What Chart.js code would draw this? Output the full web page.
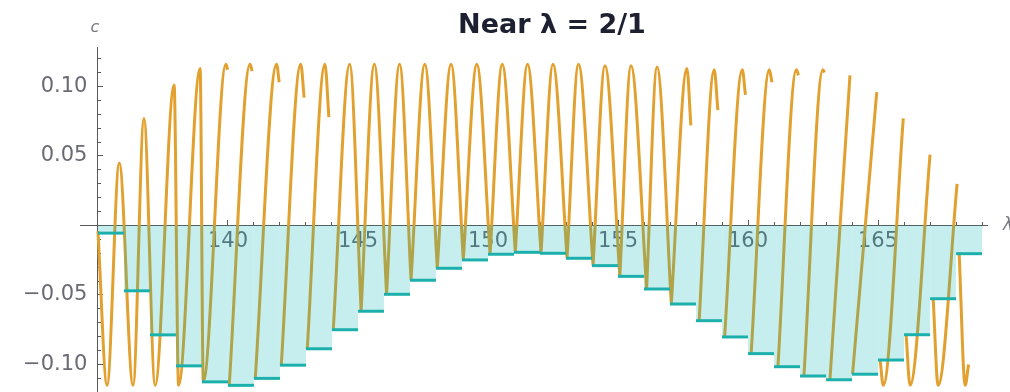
<!DOCTYPE html>
<html>
<head>
<meta charset="utf-8">
<title>Near λ = 2/1</title>
<script src="https://cdn.jsdelivr.net/npm/chart.js@4.4.1/dist/chart.umd.min.js"></script>
<style>
  html, body { margin: 0; padding: 0; background: #fff; }
  #wrap { width: 1010px; height: 392px; }
</style>
</head>
<body>
<div id="wrap"><canvas id="chart" width="1010" height="392"></canvas></div>
<script>
// step function c_k on [k, k+1)
const stepEdges = [135, 136, 137, 138, 139, 140, 141, 142, 143, 144, 145, 146, 147, 148, 149, 150, 151,
                   152, 153, 154, 155, 156, 157, 158, 159, 160, 161, 162, 163, 164, 165, 166, 167, 168, 169];
const stepValues = [-0.0055, -0.047, -0.0787, -0.101, -0.1125, -0.115, -0.110, -0.1005, -0.0887, -0.075,
                    -0.0617, -0.0495, -0.0394, -0.0308, -0.0248, -0.0207, -0.0193, -0.020, -0.0236, -0.0289,
                    -0.0366, -0.0457, -0.0565, -0.0685, -0.0802, -0.0922, -0.1016, -0.1083, -0.111, -0.107,
                    -0.0968, -0.0786, -0.0527, -0.0203];

// oscillating c(λ); null = gap, so the middle arches meet in sharp V's on the steps
const curveX = [135.0, 135.35, 135.82, 136.35, 136.77, 137.2, 137.93, 138.1, 138.93, 139.05, 139.92, 139.99, null,
                140.05, 140.85, 140.93, null,
                141.05, 141.87, 141.97, null,
                142.05, 142.8, 142.93, null,
                143.05, 143.73, 143.88, null,
                144.05, 144.68, 145.12, null,
                145.12, 145.63, 146.1, null,
                146.1, 146.6, 147.04, null,
                147.04, 147.57, 148.05, null,
                148.05, 148.58, 149.05, null,
                149.05, 149.57, 150.08, null,
                150.08, 150.55, 151.05, null,
                151.05, 151.52, 152.04, null,
                152.04, 152.5, 153.04, null,
                153.04, 153.48, 154.04, null,
                154.04, 154.5, 155.07, null,
                155.07, 155.5, 156.1, null,
                156.1, 156.5, 157.05, null,
                157.05, 157.65, 157.8, null,
                158.12, 158.7, 158.84, null,
                159.1, 159.78, 159.9, null,
                160.12, 160.82, 160.92, null,
                161.15, 161.86, 161.94, null,
                162.15, 162.88, 162.94, null,
                163.15, 163.92, null,
                164.02, 164.95, null,
                165.08, 165.2, 165.97, null,
                166.08, 166.23, 167.0, null,
                167.12, 167.31, 168.04, null,
                168.12, 168.35, 168.48];
const curveY = [-0.004, -0.115, 0.045, -0.115, 0.077, -0.115, 0.101, -0.115, 0.113, -0.1125, 0.116, 0.112, null,
                -0.115, 0.116, 0.111, null,
                -0.110, 0.116, 0.103, null,
                -0.1005, 0.116, 0.092, null,
                -0.0887, 0.116, 0.078, null,
                -0.075, 0.116, -0.0617, null,
                -0.0617, 0.116, -0.0495, null,
                -0.0495, 0.116, -0.0394, null,
                -0.0394, 0.116, -0.0308, null,
                -0.0308, 0.116, -0.0248, null,
                -0.0248, 0.116, -0.0207, null,
                -0.0207, 0.116, -0.0193, null,
                -0.0193, 0.116, -0.020, null,
                -0.020, 0.116, -0.0236, null,
                -0.0236, 0.116, -0.0289, null,
                -0.0289, 0.115, -0.0366, null,
                -0.0366, 0.115, -0.0457, null,
                -0.0457, 0.114, -0.0565, null,
                -0.0565, 0.113, 0.072, null,
                -0.0685, 0.112, 0.083, null,
                -0.0802, 0.112, 0.094, null,
                -0.0922, 0.112, 0.103, null,
                -0.1016, 0.112, 0.108, null,
                -0.1083, 0.112, 0.110, null,
                -0.111, 0.108, null,
                -0.107, 0.096, null,
                -0.0968, -0.115, 0.077, null,
                -0.0786, -0.115, 0.051, null,
                -0.0527, -0.115, 0.03, null,
                -0.0203, -0.115, -0.1];

const xMajorStep = 5, xMinorStep = 1;
const yMajorStep = 0.05, yMinorStep = 0.01;
const X_MIN = 134.31, X_MAX = 169.19;
const Y_MIN = -0.1198, Y_MAX = 0.1284;

const ORANGE = 'rgb(226,160,46)';
const TEAL = 'rgb(28,176,172)';
const SHADE = 'rgba(0,178,178,0.22)';
const AXIS = '#5a5a5a';
const LABEL = '#6a6a74';

const stepPoints = [];
stepValues.forEach((v, i) => {
  stepPoints.push({ x: stepEdges[i], y: v }, { x: stepEdges[i + 1], y: v });
});

const curvePoints = curveX.map((x, i) =>
  curveY[i] === null ? { x: curveX[i - 1], y: null } : { x, y: curveY[i] });

// en space keeps the labels clear of the axis line
const fmtY = v => {
  if (Math.abs(v) < 1e-9) return '';
  const s = Math.abs(v).toFixed(2);
  return (v < 0 ? '\u2212' + s : s) + '\u2002';
};

// axes cross inside the plot; don't let their label padding shrink the chart area
const noPadding = scale => {
  scale.paddingTop = scale.paddingBottom = scale.paddingLeft = scale.paddingRight = 0;
};

// title and axis names
const labelsPlugin = {
  id: 'plotLabels',
  afterDraw(chart) {
    const c = chart.ctx;
    c.save();
    c.fillStyle = '#1c2030';
    c.font = 'bold 27px "DejaVu Sans"';
    c.textAlign = 'center';
    c.textBaseline = 'alphabetic';
    c.fillText('Near λ = 2/1', 552, 33);
    c.fillStyle = '#777780';
    c.font = 'italic 16px "DejaVu Sans"';
    c.fillText('c', 95, 32);
    c.textAlign = 'left';
    c.textBaseline = 'middle';
    c.font = 'italic 17px "DejaVu Sans"';
    c.fillText('λ', 1003, 226);
    c.restore();
  }
};

const tickFont = { family: 'DejaVu Sans', size: 21 };

new Chart(document.getElementById('chart'), {
  type: 'line',
  data: {
    datasets: [
      {
        label: 'steps',
        data: stepPoints,
        borderColor: TEAL,
        borderWidth: 3,
        backgroundColor: SHADE,
        fill: 'origin',
        pointRadius: 0,
        tension: 0,
        segment: {
          borderColor: ctx => ctx.p0.parsed.x === ctx.p1.parsed.x ? 'transparent' : TEAL
        }
      },
      {
        label: 'c',
        data: curvePoints,
        borderColor: ORANGE,
        borderWidth: 3,
        fill: false,
        pointRadius: 0,
        cubicInterpolationMode: 'monotone',
        spanGaps: false
      }
    ]
  },
  options: {
    responsive: false,
    animation: false,
    devicePixelRatio: 1,
    layout: { padding: { top: 47, left: 80, right: 23, bottom: 0 } },
    plugins: {
      legend: { display: false },
      title: { display: false },
      tooltip: { enabled: false }
    },
    scales: {
      x: {
        type: 'linear', min: X_MIN, max: X_MAX,
        position: { y: 0 },
        afterFit: noPadding,
        ticks: {
          stepSize: xMajorStep, includeBounds: false, autoSkip: false, maxRotation: 0,
          color: LABEL, font: tickFont, padding: 9,
          callback: v => v === 135 ? '' : String(v)
        },
        grid: { drawOnChartArea: false, tickLength: -6, color: AXIS },
        border: { color: AXIS, width: 1 }
      },
      xMinor: {
        type: 'linear', min: X_MIN, max: X_MAX,
        position: { y: 0 },
        afterFit: noPadding,
        ticks: { stepSize: xMinorStep, includeBounds: false, display: false },
        grid: { drawOnChartArea: false, tickLength: -3, color: AXIS },
        border: { display: false }
      },
      y: {
        type: 'linear', min: Y_MIN, max: Y_MAX,
        position: { x: 135 },
        afterFit: noPadding,
        ticks: {
          stepSize: yMajorStep, includeBounds: false,
          color: LABEL, font: { family: 'DejaVu Sans', size: 21 }, padding: 0,
          callback: fmtY
        },
        grid: { drawOnChartArea: false, tickLength: -6, color: AXIS },
        border: { color: AXIS, width: 1 }
      },
      yMinor: {
        type: 'linear', min: Y_MIN, max: Y_MAX,
        position: { x: 135 },
        afterFit: noPadding,
        ticks: { stepSize: yMinorStep, includeBounds: false, display: false },
        grid: { drawOnChartArea: false, tickLength: -3, color: AXIS },
        border: { display: false }
      }
    }
  },
  plugins: [labelsPlugin]
});
</script>
</body>
</html>
